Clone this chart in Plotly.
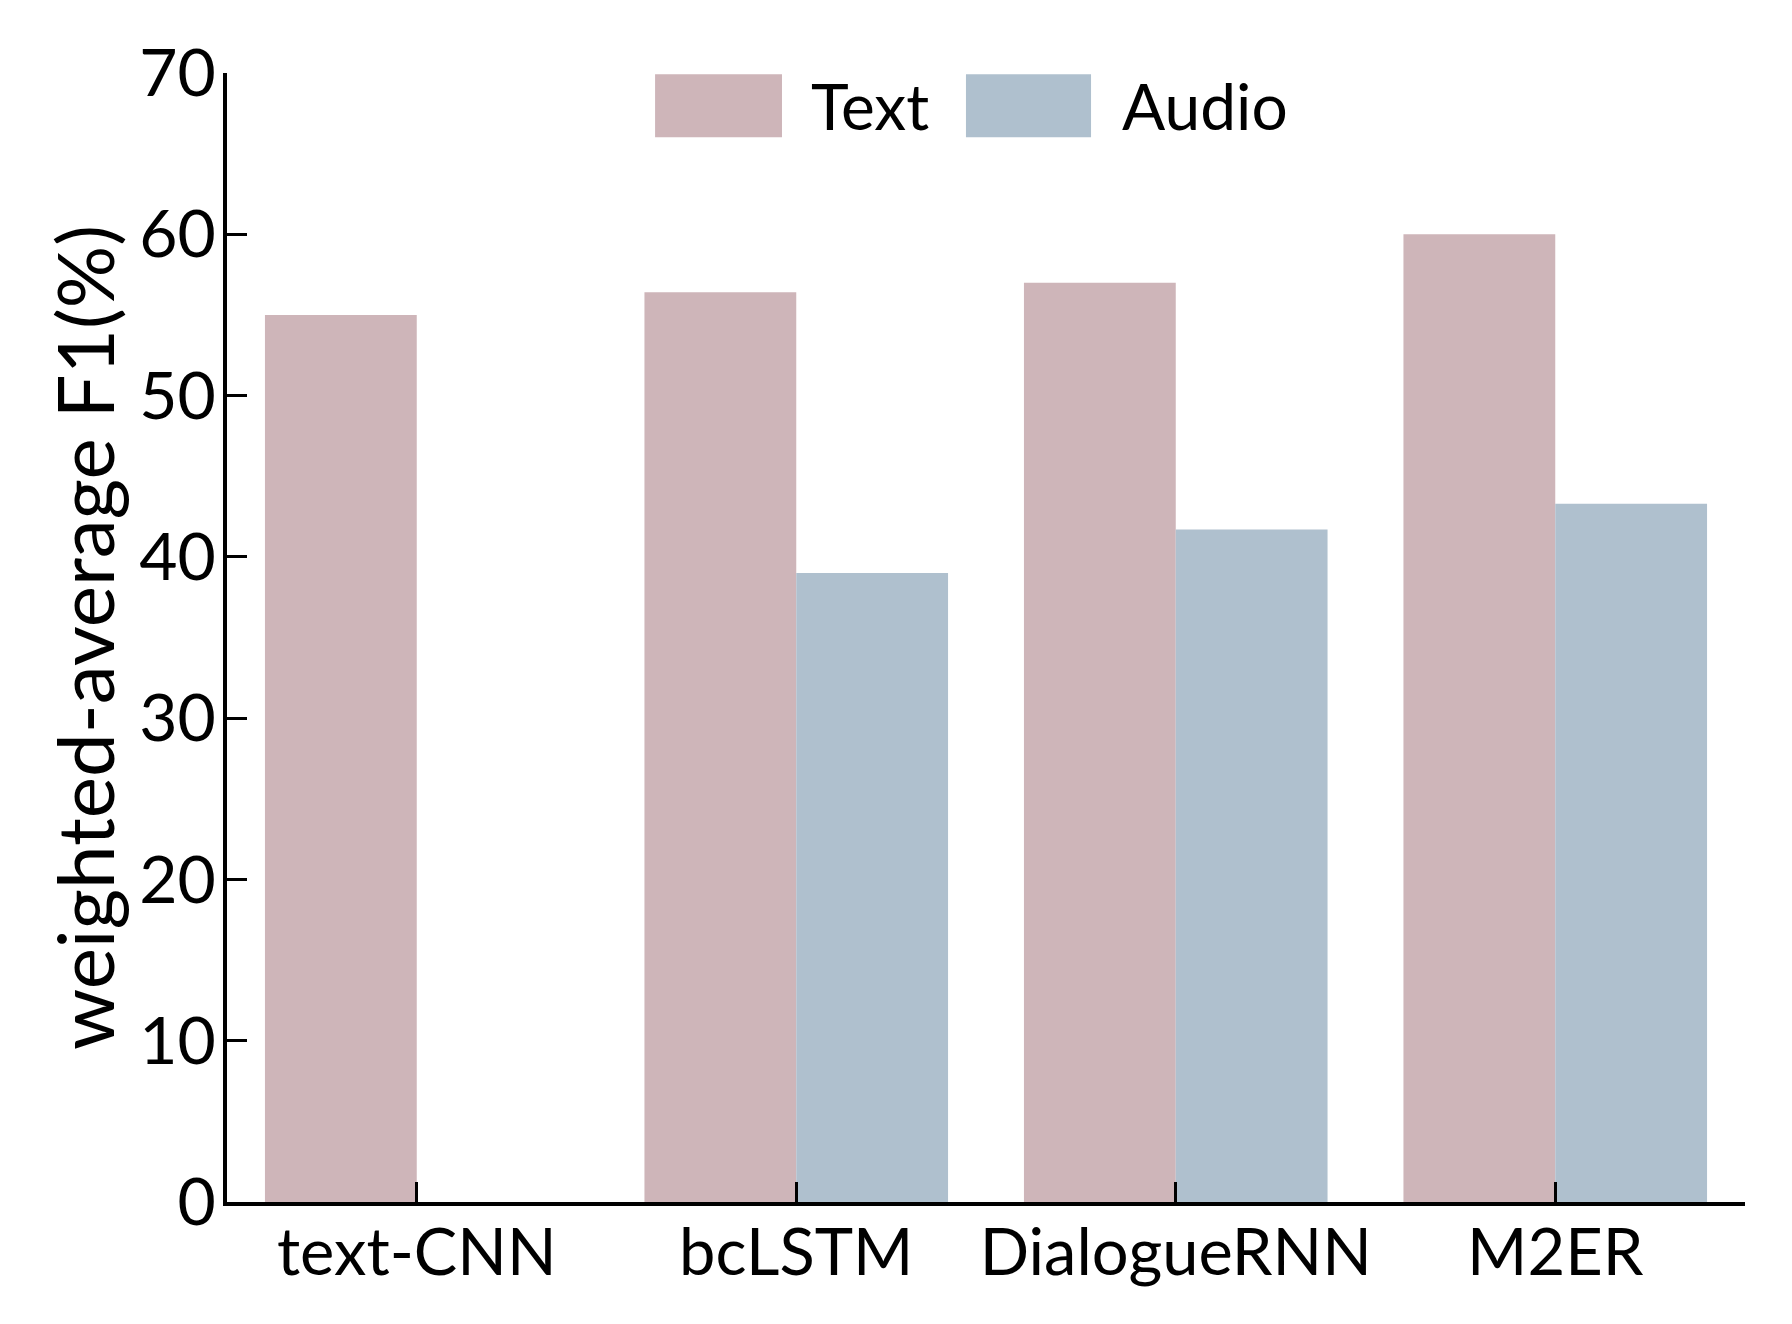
import plotly.graph_objects as go

models = ["text-CNN", "bcLSTM", "DialogueRNN", "M2ER"]
text_f1 = [55.0, 56.4, 57.0, 60.0]
audio_f1 = [None, 39.0, 41.7, 43.3]

TEXT_COLOR = "#ceb5b9"
AUDIO_COLOR = "#afc0ce"
FONT = "Lato"

fig = go.Figure()
fig.add_trace(go.Bar(x=models, y=text_f1, name="Text", marker_color=TEXT_COLOR,
                     marker_line_width=0, showlegend=False))
fig.add_trace(go.Bar(x=models, y=audio_f1, name="Audio", marker_color=AUDIO_COLOR,
                     marker_line_width=0, showlegend=False))

# hand-made legend with large swatches, like the original
legend_items = [("Text", TEXT_COLOR, 0.282, 0.3656, 0.3834),
                ("Audio", AUDIO_COLOR, 0.4868, 0.5692, 0.588)]
for label, color, x0, x1, xt in legend_items:
    fig.add_shape(type="rect", xref="paper", yref="paper",
                  x0=x0, x1=x1, y0=0.943, y1=0.999,
                  fillcolor=color, line_width=0)
    fig.add_annotation(text=label, xref="paper", yref="paper",
                       x=xt, y=0.971, xanchor="left", yanchor="middle",
                       showarrow=False, font=dict(size=64, color="black", family=FONT))

fig.update_layout(
    width=1792, height=1324,
    plot_bgcolor="white", paper_bgcolor="white",
    font=dict(family=FONT, color="black", size=60),
    barmode="group", bargap=0.2, bargroupgap=0,
    margin=dict(l=219, r=55, t=65, b=130),
)
fig.update_xaxes(
    range=[-0.5, 3.5], showline=True, linecolor="black", linewidth=4,
    ticks="inside", ticklen=20, tickwidth=3, tickcolor="black",
    showgrid=False, zeroline=False, tickfont=dict(size=65),
    ticklabelstandoff=-9, automargin=False,
)
fig.update_yaxes(
    range=[0, 70], dtick=10, showline=True, linecolor="black", linewidth=4,
    ticks="inside", ticklen=20, tickwidth=3, tickcolor="black",
    showgrid=False, zeroline=False, tickfont=dict(size=66),
    ticklabelstandoff=-6, automargin=False,
    title=dict(text="weighted-average F1(%)", font=dict(size=78), standoff=0),
)

fig.write_html("out.html")
